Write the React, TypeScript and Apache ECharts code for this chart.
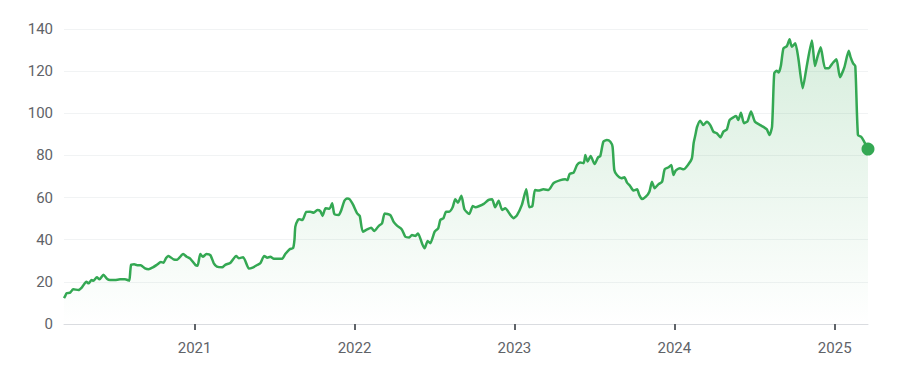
import React, { useEffect, useRef } from "react";
import * as echarts from "echarts";

const dates: string[] = [
  "2020-03-09","2020-03-11","2020-03-15","2020-03-23","2020-03-30","2020-04-11","2020-04-19","2020-04-29","2020-05-04","2020-05-11",
  "2020-05-15","2020-05-23","2020-05-29","2020-06-07","2020-06-15","2020-06-22","2020-07-03","2020-07-15","2020-07-26","2020-08-01",
  "2020-08-05","2020-08-09","2020-08-16","2020-08-23","2020-08-31","2020-09-10","2020-09-18","2020-09-28","2020-10-07","2020-10-16",
  "2020-10-22","2020-10-28","2020-11-02","2020-11-14","2020-11-22","2020-12-06","2020-12-14","2020-12-22",
  "2021-01-03","2021-01-08","2021-01-14","2021-01-20","2021-01-28","2021-02-06","2021-02-14","2021-02-21","2021-03-05","2021-03-12",
  "2021-03-24","2021-04-06","2021-04-12","2021-04-22","2021-05-05","2021-05-12","2021-05-24","2021-05-31","2021-06-09","2021-06-16",
  "2021-06-23","2021-07-01","2021-07-20","2021-07-27","2021-08-06","2021-08-14","2021-08-17","2021-08-19","2021-08-25","2021-08-29",
  "2021-09-04","2021-09-13","2021-09-22","2021-09-30","2021-10-08","2021-10-15","2021-10-20","2021-10-27","2021-11-05","2021-11-11",
  "2021-11-16","2021-11-26","2021-12-02","2021-12-09","2021-12-15","2021-12-21","2021-12-29",
  "2022-01-07","2022-01-13","2022-01-20","2022-01-30","2022-02-08","2022-02-15","2022-02-25","2022-03-05","2022-03-11","2022-03-24",
  "2022-03-31","2022-04-08","2022-04-19","2022-04-27","2022-05-06","2022-05-12","2022-05-20","2022-05-26","2022-06-04","2022-06-10",
  "2022-06-17","2022-06-23","2022-07-03","2022-07-11","2022-07-16","2022-07-23","2022-07-29","2022-08-05","2022-08-13","2022-08-19",
  "2022-08-25","2022-09-02","2022-09-09","2022-09-20","2022-09-28","2022-10-04","2022-10-13","2022-10-23","2022-11-03","2022-11-11",
  "2022-11-18","2022-11-26","2022-12-04","2022-12-11","2022-12-23","2022-12-30",
  "2023-01-07","2023-01-18","2023-01-28","2023-02-04","2023-02-11","2023-02-17","2023-02-25","2023-03-08","2023-03-20","2023-03-31",
  "2023-04-16","2023-04-27","2023-05-02","2023-05-07","2023-05-16","2023-05-24","2023-05-31","2023-06-08","2023-06-12","2023-06-17",
  "2023-06-24","2023-07-03","2023-07-11","2023-07-16","2023-07-23","2023-07-31","2023-08-08","2023-08-13","2023-08-17","2023-08-23",
  "2023-09-02","2023-09-09","2023-09-15","2023-09-22","2023-09-30","2023-10-08","2023-10-13","2023-10-19","2023-10-28","2023-11-05",
  "2023-11-11","2023-11-17","2023-11-26","2023-12-04","2023-12-10","2023-12-19","2023-12-25","2023-12-30",
  "2024-01-04","2024-01-14","2024-01-22","2024-02-01","2024-02-10","2024-02-14","2024-02-18","2024-02-22","2024-02-29","2024-03-07",
  "2024-03-15","2024-03-23","2024-03-30","2024-04-07","2024-04-15","2024-04-22","2024-04-30","2024-05-06","2024-05-15","2024-05-21",
  "2024-05-26","2024-06-01","2024-06-08","2024-06-16","2024-06-24","2024-07-03","2024-07-15","2024-07-24","2024-07-30","2024-08-05",
  "2024-08-11","2024-08-16","2024-08-22","2024-08-26","2024-08-31","2024-09-06","2024-09-14","2024-09-20","2024-09-25","2024-10-03",
  "2024-10-10","2024-10-20","2024-10-29","2024-11-10","2024-11-17","2024-11-23","2024-11-30","2024-12-10","2024-12-18","2024-12-28",
  "2025-01-05","2025-01-13","2025-01-23","2025-02-02","2025-02-06","2025-02-12","2025-02-17","2025-02-23","2025-03-02","2025-03-08",
  "2025-03-18"
];

const prices: number[] = [
  12.3,13.0,14.6,14.9,16.5,16.1,17.4,20.1,19.3,20.9,
  20.5,22.2,21.2,23.4,21.5,20.9,20.9,21.2,21.2,20.9,
  20.5,28.0,28.3,27.9,27.9,26.4,26.0,26.9,28.1,29.4,
  29.1,31.3,32.3,30.7,30.5,33.2,31.9,31.0,
  28.0,27.7,33.2,31.9,33.2,32.7,28.8,27.2,26.9,28.1,
  29.1,32.3,31.2,31.7,26.3,26.6,28.0,28.8,32.3,31.5,
  31.9,31.0,31.0,33.2,35.5,36.1,39.9,46.2,49.4,49.7,
  49.3,53.2,53.3,52.8,54.1,53.6,51.3,54.9,54.7,57.3,
  52.2,51.7,54.1,58.5,59.6,59.2,56.5,
  52.5,51.3,43.8,44.9,45.7,44.1,46.5,47.8,52.5,51.6,
  48.6,46.7,44.9,41.4,41.1,42.2,41.8,43.0,38.3,35.9,
  39.4,38.3,43.8,45.4,49.4,50.2,53.3,53.3,55.4,59.2,
  57.6,60.9,54.4,52.2,56.0,55.4,56.0,57.0,58.9,59.2,
  55.4,58.5,54.1,54.9,51.7,50.2,
  51.7,56.5,63.9,55.4,56.0,63.6,63.3,63.9,63.6,66.8,
  68.3,68.7,68.3,71.2,71.8,75.5,76.7,76.3,80.2,77.1,
  79.7,75.9,79.1,79.7,86.5,87.3,86.5,84.1,73.1,70.7,
  69.2,69.6,67.1,65.5,63.3,63.9,61.2,59.3,60.4,62.8,
  67.5,64.4,66.4,67.5,73.4,74.4,75.5,70.7,
  72.8,73.9,73.4,75.5,78.6,85.8,89.7,93.6,96.5,94.4,
  96.0,94.4,91.3,90.5,88.6,91.3,92.4,96.8,98.1,98.7,
  96.8,100.3,95.3,96.2,100.8,96.0,94.4,93.3,92.4,89.7,
  93.6,119.0,120.2,119.3,122.4,130.8,131.9,135.1,131.6,133.2,
  126.1,111.9,122.1,134.5,122.4,127.0,131.3,121.4,121.4,124.0,
  125.6,117.1,121.8,129.7,126.8,123.7,122.4,89.7,88.9,87.0,
  83.0
];

const yTicks = { min: 0, max: 140, step: 20 };
const xRange = { start: "2020-03-09", end: "2025-03-18" };

export default function App() {
  const ref = useRef<HTMLDivElement>(null);
  useEffect(() => {
    if (!ref.current) return;
    const chart = echarts.init(ref.current, null, { renderer: "svg" });
    const data = dates.map((d, i) => [d, prices[i]]);
    const last = data[data.length - 1];
    const YEAR = 365 * 24 * 3600 * 1000;
    chart.setOption({
      animation: false,
      textStyle: { fontFamily: "Roboto, 'Noto Sans', sans-serif" },
      grid: { left: 56, right: 27, top: 21, bottom: 43, containLabel: false },
      xAxis: {
        type: "time",
        min: xRange.start,
        max: xRange.end,
        minInterval: YEAR,
        maxInterval: YEAR + 24 * 3600 * 1000,
        axisLine: { show: true, lineStyle: { color: "#dadce0", width: 1 } },
        axisTick: { show: true, length: 6, lineStyle: { color: "#5f6368", width: 2 } },
        axisLabel: {
          color: "#5f6368",
          fontSize: 15,
          margin: 16,
          showMinLabel: false,
          showMaxLabel: false,
          formatter: (v: number) => String(new Date(v).getFullYear()),
        },
        splitLine: { show: false },
      },
      yAxis: {
        type: "value",
        min: yTicks.min,
        max: yTicks.max,
        interval: yTicks.step,
        axisLine: { show: false },
        axisTick: { show: false },
        axisLabel: { color: "#5f6368", fontSize: 15, margin: 11 },
        splitLine: { lineStyle: { color: "#f1f3f4", width: 1 } },
      },
      series: [
        {
          type: "line",
          data,
          smooth: 0.2,
          symbol: "none",
          lineStyle: { color: "#34a853", width: 2.5 },
          areaStyle: {
            color: new echarts.graphic.LinearGradient(0, 0, 0, 1, [
              { offset: 0, color: "rgba(52,168,83,0.28)" },
              { offset: 1, color: "rgba(52,168,83,0.0)" },
            ]),
          },
          z: 2,
        },
        {
          type: "scatter",
          data: [last],
          symbol: "circle",
          symbolSize: 13,
          itemStyle: { color: "#34a853", opacity: 1 },
          z: 3,
        },
      ],
    });
    return () => chart.dispose();
  }, []);
  return <div ref={ref} style={{ width: 887, height: 359 }} />;
}
